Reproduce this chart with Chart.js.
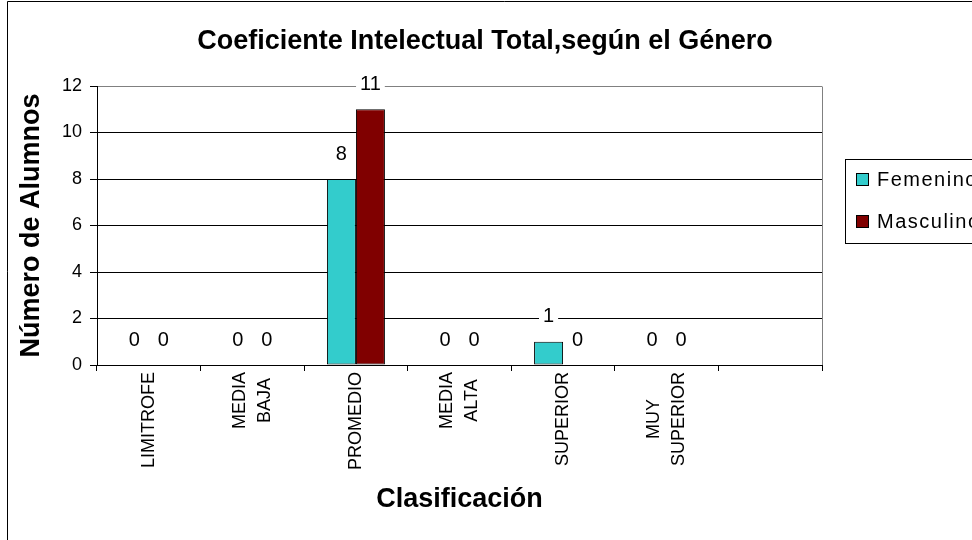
<!DOCTYPE html>
<html><head><meta charset="utf-8">
<script src="https://cdn.jsdelivr.net/npm/chart.js@4/dist/chart.umd.min.js"></script>
<style>html,body{margin:0;padding:0;background:#fff;overflow:hidden;width:972px;height:540px}canvas{display:block}</style>
</head><body>
<canvas id="c" width="1000" height="540"></canvas>
<script>
const categories = [['LIMITROFE'], ['MEDIA', 'BAJA'], ['PROMEDIO'], ['MEDIA', 'ALTA'], ['SUPERIOR'], ['MUY', 'SUPERIOR'], ['']];
const femenino = [0, 0, 8, 0, 1, 0, null];
const masculino = [0, 0, 11, 0, 0, 0, null];
const seriesNames = ['Femenino', 'Masculino'];
const seriesColors = ['#33CCCC', '#800000'];
const yMin = 0, yMax = 12, yStep = 2;
const chartTitle = 'Coeficiente Intelectual Total,según el Género';
const xTitle = 'Clasificación';
const yTitle = 'Número de Alumnos';

const FONT = "'Liberation Sans', Arial, Helvetica, sans-serif";

const decor = {
  id: 'decor',
  beforeDraw(chart) {
    const ctx = chart.ctx;
    ctx.save();
    ctx.fillStyle = '#fff';
    ctx.fillRect(0, 0, chart.width, chart.height);
    ctx.strokeStyle = '#000';
    ctx.lineWidth = 1;
    ctx.beginPath();
    ctx.moveTo(7.5, chart.height + 5);
    ctx.lineTo(7.5, 1.5);
    ctx.lineTo(chart.width + 5, 1.5);
    ctx.stroke();
    ctx.restore();
  },
  afterDatasetsDraw(chart) {
    const ctx = chart.ctx;
    ctx.save();
    ctx.font = '20px ' + FONT;
    ctx.textAlign = 'center';
    ctx.textBaseline = 'middle';
    chart.data.datasets.forEach((ds, di) => {
      const meta = chart.getDatasetMeta(di);
      meta.data.forEach((bar, i) => {
        const v = ds.data[i];
        if (v === null || v === undefined) return;
        const txt = String(v);
        const w = ctx.measureText(txt).width;
        const y = bar.y - 25;
        ctx.fillStyle = '#fff';
        ctx.fillRect(bar.x - w / 2 - 4, y - 10, w + 8, 20);
        ctx.fillStyle = '#000';
        ctx.fillText(txt, bar.x, y);
      });
    });
    ctx.restore();
  },
  afterDraw(chart) {
    const ctx = chart.ctx;
    const a = chart.chartArea;
    ctx.save();
    // right border of plot area
    ctx.strokeStyle = '#808080';
    ctx.lineWidth = 1;
    ctx.beginPath();
    ctx.moveTo(Math.round(a.right) + 0.5, Math.round(a.top) + 0.5);
    ctx.lineTo(Math.round(a.right) + 0.5, Math.round(a.bottom));
    ctx.stroke();
    // category labels (rotated, lines centered)
    const xs = chart.scales.x;
    ctx.fillStyle = '#000';
    ctx.font = '18px ' + FONT;
    ctx.textAlign = 'center';
    ctx.textBaseline = 'middle';
    categories.forEach((lines, i) => {
      const x = xs.getPixelForValue(i);
      let W = 0;
      lines.forEach(l => { W = Math.max(W, ctx.measureText(l).width); });
      const yc = xs.top + 7 + W / 2;
      const n = lines.length;
      lines.forEach((l, j) => {
        const lx = x + (j - (n - 1) / 2) * 25;
        ctx.save();
        ctx.translate(lx, yc);
        ctx.rotate(-Math.PI / 2);
        ctx.fillText(l, 0, 0);
        ctx.restore();
      });
    });
    // legend
    ctx.strokeStyle = '#000';
    ctx.lineWidth = 1;
    ctx.strokeRect(845.5, 159.5, 300, 84);
    ctx.font = '20px ' + FONT;
    ctx.textAlign = 'left';
    try { ctx.letterSpacing = '1.5px'; } catch (e) {}
    chart.data.datasets.forEach((ds, di) => {
      const cy = 180 + di * 42;
      ctx.fillStyle = ds.backgroundColor;
      ctx.fillRect(856, cy - 7, 13, 13);
      ctx.strokeRect(856.5, cy - 6.5, 12, 12);
      ctx.fillStyle = '#000';
      ctx.fillText(ds.label, 877, cy);
    });
    ctx.restore();
  }
};

new Chart(document.getElementById('c'), {
  type: 'bar',
  data: {
    labels: categories,
    datasets: [
      { label: seriesNames[0], data: femenino, backgroundColor: seriesColors[0], borderColor: '#000', borderWidth: 1, borderSkipped: false, categoryPercentage: 0.56, barPercentage: 1.0 },
      { label: seriesNames[1], data: masculino, backgroundColor: seriesColors[1], borderColor: '#000', borderWidth: 1, borderSkipped: false, categoryPercentage: 0.56, barPercentage: 1.0 }
    ]
  },
  options: {
    responsive: false,
    animation: false,
    devicePixelRatio: 1,
    layout: { padding: { left: 10, right: 40, top: 0, bottom: 0 } },
    plugins: {
      legend: { display: false },
      tooltip: { enabled: false },
      title: {
        display: true,
        text: chartTitle,
        color: '#000',
        font: { family: FONT, size: 27, weight: 'bold', lineHeight: 1.2 },
        padding: { top: 25, bottom: 28.6 }
      }
    },
    scales: {
      x: {
        grid: { display: true, drawOnChartArea: false, drawTicks: true, tickLength: 6, color: '#000', offset: true },
        border: { display: true, color: '#000', width: 1 },
        ticks: { display: false },
        title: {
          display: true, text: xTitle, color: '#000',
          font: { family: FONT, size: 27, weight: 'bold', lineHeight: 1.2 },
          padding: { top: 0, bottom: 23.8 }
        },
        afterFit(scale) { scale.height = 175; }
      },
      y: {
        min: yMin, max: yMax,
        ticks: { stepSize: yStep, color: '#000', font: { family: FONT, size: 18 }, padding: 8 },
        grid: {
          drawTicks: true, tickLength: 7, tickColor: '#000',
          color: ctx => (ctx.tick && ctx.tick.value === yMax) ? '#808080' : '#000',
          lineWidth: 1
        },
        border: { display: true, color: '#000', width: 1 },
        title: {
          display: true, text: yTitle, color: '#000',
          font: { family: FONT, size: 27, weight: 'bold', lineHeight: 1.2 },
          padding: { top: 5, bottom: 0 }
        },
        afterFit(scale) { scale.width = 87; }
      },
      spacer: {
        type: 'linear', position: 'right', display: true,
        grid: { display: false, drawTicks: false },
        border: { display: false },
        ticks: { display: false },
        afterFit(scale) { scale.width = 138; }
      }
    }
  },
  plugins: [decor]
});
</script>
</body></html>
